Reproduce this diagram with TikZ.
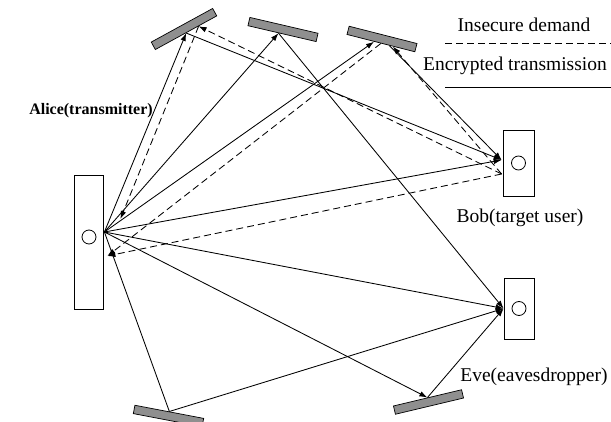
\documentclass[tikz,border=0pt]{standalone}
\usepackage{fontspec}
\setmainfont{Liberation Serif}
\usepackage{xcolor}
\usepackage{tikz}
\usetikzlibrary{arrows.meta,calc,positioning}
\definecolor{mirrorgray}{gray}{0.56}

\begin{document}
\begin{tikzpicture}[x=1pt,y=-1pt,>={Latex[length=8pt,width=5.5pt]},
  font=\fontsize{19.5}{22}\selectfont,
  mirror/.style={draw,line width=0.7pt,fill=mirrorgray,minimum width=70pt,minimum height=8.5pt,inner sep=0pt},
  user/.style={draw,line width=0.8pt,fill=white,inner sep=0pt},
  eye/.style={draw,line width=0.8pt,circle,minimum size=14pt,inner sep=0pt},
  enc/.style={line width=0.85pt},
  demand/.style={line width=0.85pt,dash pattern=on 7pt off 4pt}]
  \useasboundingbox (0,0) rectangle (611,422);
  % users
  \node[user,minimum width=29pt,minimum height=134pt] (alice) at (88.5,242) {};
  \node[eye] (alicedot) at (89,237) {};
  \node[user,minimum width=31pt,minimum height=66pt] (bob) at (518.5,163) {};
  \node[eye] (bobdot) at (bob.center) {};
  \node[user,minimum width=30pt,minimum height=61pt] (eve) at (519,308.5) {};
  \node[eye] (evedot) at (eve.center) {};
  % reflectors
  \node[mirror,rotate=28.7] (r1) at (184,29) {};
  \node[mirror,rotate=-13.1] (r2) at (283,29.5) {};
  \node[mirror,rotate=-14.3] (r3) at (382,39) {};
  \node[mirror,rotate=-10.8] (r4) at (168.5,416) {};
  \node[mirror,rotate=13.4] (r5) at (428.5,402) {};
  % labels
  \node[font=\fontsize{16}{19}\selectfont\bfseries] (alicelabel) at (91,111) {Alice(transmitter)};
  \node (boblabel) at (520,218) {Bob(target user)};
  \node (evelabel) at (534,377) {Eve(eavesdropper)};
  \node (demandkey) at (524,25) {Insecure demand};
  \node (enckey) at (515,66) {Encrypted transmission};
  \draw[demand] (445,43) -- (611,43);
  \draw[enc] (445,87) -- (611,87);
  % hit points
  \coordinate (atx) at ($(alice.east)+(1,-10)$);
  \coordinate (arxa) at ($(alice.east)+(17,-23)$);
  \coordinate (arxb) at ($(alice.east)+(4,14)$);
  \coordinate (brx) at ($(bob.west)+(-1,-3)$);
  \coordinate (btx) at ($(bob.west)+(-1,11)$);
  \coordinate (erx) at (eve.west);
  \coordinate (r1s) at (r1.south);
  \coordinate (r1d) at ($(r1.south)!.4!(r1.south east)$);
  \coordinate (r2s) at ($(r2.south)!.1!(r2.south west)$);
  \coordinate (r3a) at ($(r3.south)!.2!(r3.south west)$);
  \coordinate (r3b) at ($(r3.south)!.25!(r3.south east)$);
  \coordinate (r3c) at (r3.south);
  \coordinate (r3d) at ($(r3.south)!.35!(r3.south east)$);
  \coordinate (r4s) at (r4.north);
  \coordinate (r5s) at (r5.north);
  % encrypted transmission
  \draw[enc,->] (atx) -- (r1s);
  \draw[enc,->] (r1s) -- (brx);
  \draw[enc,->] (atx) -- (r2s);
  \draw[enc,->] (r2s) -- (erx);
  \draw[enc,->] (atx) -- (r3a);
  \draw[enc,->] (r3b) -- (brx);
  \draw[enc,->] (atx) -- (brx);
  \draw[enc,->] (atx) -- (erx);
  \draw[enc,->] (atx) -- (r5s);
  \draw[enc,->] (r5s) -- (erx);
  \draw[enc] (atx) -- (r4s);
  \draw[enc,->] (r4s) -- (erx);
  % insecure demand
  \draw[demand,->] (btx) -- (r1d);
  \draw[demand,->] (r1d) -- (arxa);
  \draw[demand,->] (btx) -- (r3d);
  \draw[demand,->] (r3c) -- (arxb);
  \draw[demand,->] (btx) -- (arxb);
\end{tikzpicture}
\end{document}
